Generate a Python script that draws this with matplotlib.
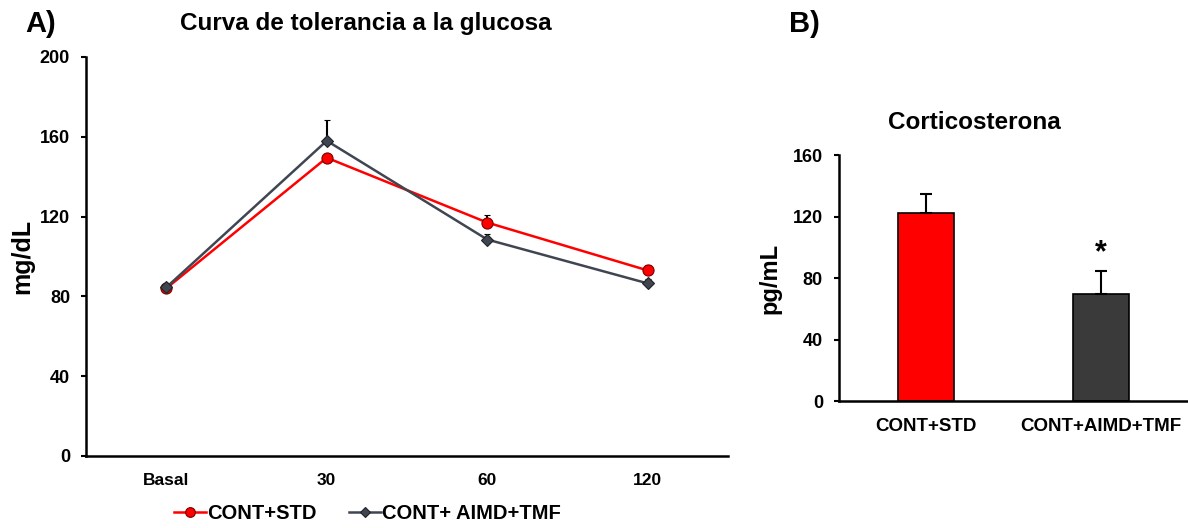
import numpy as np
import matplotlib
matplotlib.use('Agg')
import matplotlib.pyplot as plt
from matplotlib.lines import Line2D

plt.rcParams['font.family'] = ['Liberation Sans', 'DejaVu Sans']
plt.rcParams['font.weight'] = 'bold'

# Panel A data
times = ['Basal', '30', '60', '120']
std_vals = [84, 149.5, 117, 93]
std_err = [0, 0, 4, 2.5]
aimd_vals = [84.5, 158, 108.5, 86.5]
aimd_err = [0, 10.5, 3, 2]
series_names = ['CONT+STD', 'CONT+ AIMD+TMF']

# Panel B data
groups = ['CONT+STD', 'CONT+AIMD+TMF']
cort_vals = [122, 69.5]
cort_err = [12.5, 15]

red = '#ff0000'
slate = '#3f4652'
bar_gray = '#3b3a3a'

fig = plt.figure(figsize=(11.88, 5.28), dpi=100)

# ---- Panel A
ax1 = fig.add_axes([0.0724, 0.1364, 0.5404, 0.7557])
x = np.arange(len(times))
ax1.errorbar(x, std_vals, yerr=[np.zeros(4), std_err], color=red, lw=1.8,
             marker='o', ms=8, mfc=red, mec='#7a0000', mew=0.8,
             ecolor='black', elinewidth=1.5, capsize=2.5, capthick=1.5, zorder=3)
ax1.errorbar(x, aimd_vals, yerr=[np.zeros(4), aimd_err], color=slate, lw=1.8,
             marker='D', ms=6.5, mfc=slate, mec='#222222', mew=0.8,
             ecolor='black', elinewidth=1.5, capsize=2.5, capthick=1.5, zorder=4)
ax1.set_xlim(-0.5, 3.5)
ax1.set_ylim(0, 200)
ax1.set_yticks([0, 40, 80, 120, 160, 200])
ax1.set_xticks(x)
ax1.set_xticklabels(times)
ax1.tick_params(axis='x', length=0, pad=12, labelsize=12.5)
ax1.tick_params(axis='y', length=3.5, width=1.5, direction='out', pad=8, labelsize=13)
for s in ['top', 'right']:
    ax1.spines[s].set_visible(False)
for s in ['left', 'bottom']:
    ax1.spines[s].set_linewidth(1.8)
ax1.set_ylabel('mg/dL', fontsize=18, fontweight='bold', labelpad=4)
fig.text(0.1515, 0.955, 'Curva de tolerancia a la glucosa', fontsize=17.5,
         fontweight='bold', va='center', ha='left')
fig.text(0.021, 0.955, 'A)', fontsize=21, fontweight='bold', va='center')

handles = [
    Line2D([], [], color=red, lw=1.8, marker='o', ms=7, mfc=red, mec='#7a0000', mew=0.8),
    Line2D([], [], color=slate, lw=1.8, marker='D', ms=5.5, mfc=slate, mec='#222222', mew=0.8),
]
fig.legend(handles, series_names, loc='center', bbox_to_anchor=(0.309, 0.028), ncol=2,
           frameon=False, prop={'size': 14.5, 'weight': 'bold'}, handlelength=1.6,
           handletextpad=0.05, columnspacing=1.6, borderaxespad=0, borderpad=0)

# ---- Panel B
ax2 = fig.add_axes([0.7062, 0.2405, 0.2938, 0.4659])
xb = np.arange(len(groups))
ax2.bar(xb, cort_vals, width=0.32, color=[red, bar_gray], edgecolor='black', lw=1.2,
        yerr=[np.zeros(2), cort_err], ecolor='black',
        error_kw=dict(elinewidth=1.5, capsize=4, capthick=1.5))
ax2.set_xlim(-0.5, 1.5)
ax2.set_ylim(0, 160)
ax2.set_yticks([0, 40, 80, 120, 160])
ax2.set_xticks(xb)
ax2.set_xticklabels(groups)
ax2.tick_params(axis='x', length=0, pad=12, labelsize=13.5)
ax2.tick_params(axis='y', length=3.5, width=1.5, direction='out', pad=8, labelsize=13)
for s in ['top', 'right']:
    ax2.spines[s].set_visible(False)
for s in ['left', 'bottom']:
    ax2.spines[s].set_linewidth(1.8)
ax2.set_ylabel('pg/mL', fontsize=17, fontweight='bold', labelpad=8)
ax2.text(1, cort_vals[1] + cort_err[1] + 2, '*', fontsize=22, fontweight='bold',
         ha='center', va='bottom')
fig.text(0.82, 0.768, 'Corticosterona', fontsize=17.5, fontweight='bold',
         ha='center', va='center')
fig.text(0.664, 0.955, 'B)', fontsize=21, fontweight='bold', va='center')

fig.savefig('out.png', dpi=100)
